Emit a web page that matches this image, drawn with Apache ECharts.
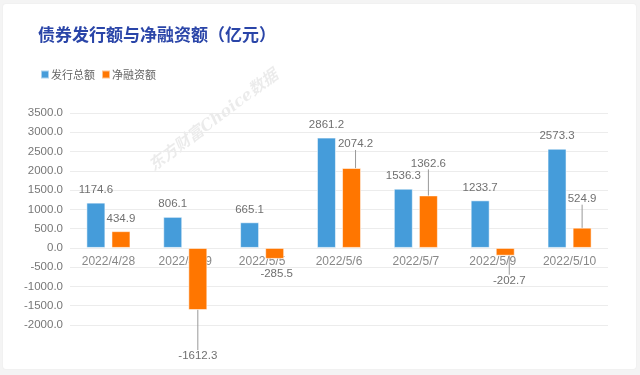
<!DOCTYPE html>
<html>
<head>
<meta charset="utf-8">
<script src="https://cdn.jsdelivr.net/npm/echarts@6/dist/echarts.min.js"></script>
<style>
  html, body { margin: 0; padding: 0; background: #f4f4f4; width: 640px; height: 375px; overflow: hidden; }
  #card { position: absolute; left: 3px; top: 4px; width: 633px; height: 365px; background: #fff; border-radius: 3px; box-shadow: 0 0 2px rgba(0,0,0,0.06); }
  #main { position: absolute; left: 0; top: 0; width: 640px; height: 375px; }
</style>
</head>
<body>
<div id="card"></div>
<div id="main"></div>
<script>
const categories = ['2022/4/28', '2022/4/29', '2022/5/5', '2022/5/6', '2022/5/7', '2022/5/9', '2022/5/10'];
const issueTotal = [1174.6, 806.1, 665.1, 2861.2, 1536.3, 1233.7, 2573.3];
const netFinancing = [434.9, -1612.3, -285.5, 2074.2, 1362.6, -202.7, 524.9];
const seriesNames = ['发行总额', '净融资额'];
const yMin = -2000, yMax = 3500, yStep = 500;

// label nudges for the net financing series (dx, dy in px)
const netLabelShift = [[0, 0], [0, 33], [2, 2], [4, -11], [0, -19], [4, 12], [0, -16]];

const font = 'Liberation Sans, Noto Sans CJK SC, sans-serif';
const blue = '#459CDA';
const orange = '#FF7600';

const gridTop = 113, gridBottom = 50, chartH = 375;
const gridH = chartH - gridTop - gridBottom;
// move the category axis up to the zero line
const zeroOffset = -gridH * (0 - yMin) / (yMax - yMin);

function buildData(values, withLine) {
  return values.map((v, i) => ({
    value: v,
    label: { position: v < 0 ? 'bottom' : 'top' },
    labelLine: { show: withLine && (Math.abs(netLabelShift[i][1]) > 5) }
  }));
}

const chart = echarts.init(document.getElementById('main'), null, { renderer: 'canvas' });
chart.setOption({
  animation: false,
  backgroundColor: 'transparent',
  title: {
    text: '债券发行额与净融资额（亿元）',
    left: 33, top: 21,
    textStyle: { color: '#2A45A8', fontSize: 17, fontWeight: 'bold', fontFamily: 'Noto Sans CJK SC, sans-serif' }
  },
  legend: {
    left: 35, top: 64,
    icon: 'rect', itemWidth: 8, itemHeight: 8, itemGap: 6,
    textStyle: { color: '#666', fontSize: 11, fontFamily: 'Noto Sans CJK SC, sans-serif', padding: [0, 0, 0, -3] },
    data: seriesNames
  },
  graphic: [{
    type: 'text',
    x: 214, y: 121,
    rotation: 37 * Math.PI / 180,
    z: 0,
    style: {
      text: '东方财富Choice数据',
      fill: 'rgba(0,0,0,0.08)',
      font: 'italic bold 16px "DejaVu Serif", "Noto Sans CJK SC", serif',
      align: 'center', verticalAlign: 'middle'
    }
  }],
  grid: { left: 70, right: 32, top: gridTop, bottom: gridBottom, containLabel: false },
  xAxis: {
    type: 'category',
    data: categories,
    offset: zeroOffset,
    axisLine: { show: false, onZero: false },
    axisTick: { show: false },
    axisLabel: { color: '#888', fontSize: 12, fontFamily: font, margin: 8 },
    splitLine: { show: false },
    z: 0
  },
  yAxis: {
    type: 'value',
    min: yMin, max: yMax, interval: yStep,
    axisLine: { show: false },
    axisTick: { show: false },
    axisLabel: { color: '#777', fontSize: 11.5, fontFamily: font, margin: 7, formatter: v => v.toFixed(1) },
    splitLine: { lineStyle: { color: '#ececec', width: 1 } }
  },
  labelLayout: function (params) {
    if (params.seriesIndex === 1) {
      const s = netLabelShift[params.dataIndex];
      return { dx: s[0], dy: s[1] };
    }
    return {};
  },
  series: [
    {
      name: seriesNames[0],
      type: 'bar',
      data: buildData(issueTotal, false),
      barWidth: 19,
      barGap: '32%',
      itemStyle: { color: blue, borderColor: 'rgba(255,255,255,0.55)', borderWidth: 1 },
      label: { show: true, color: '#707070', fontSize: 11.5, fontFamily: font, distance: 7, formatter: p => p.value.toFixed(1) }
    },
    {
      name: seriesNames[1],
      type: 'bar',
      data: buildData(netFinancing, true),
      barWidth: 19,
      itemStyle: { color: orange, borderColor: 'rgba(255,255,255,0.55)', borderWidth: 1 },
      label: { show: true, color: '#707070', fontSize: 11.5, fontFamily: font, distance: 7, formatter: p => p.value.toFixed(1) },
      labelLine: { lineStyle: { color: '#999', width: 1 } }
    }
  ]
});
</script>
</body>
</html>
